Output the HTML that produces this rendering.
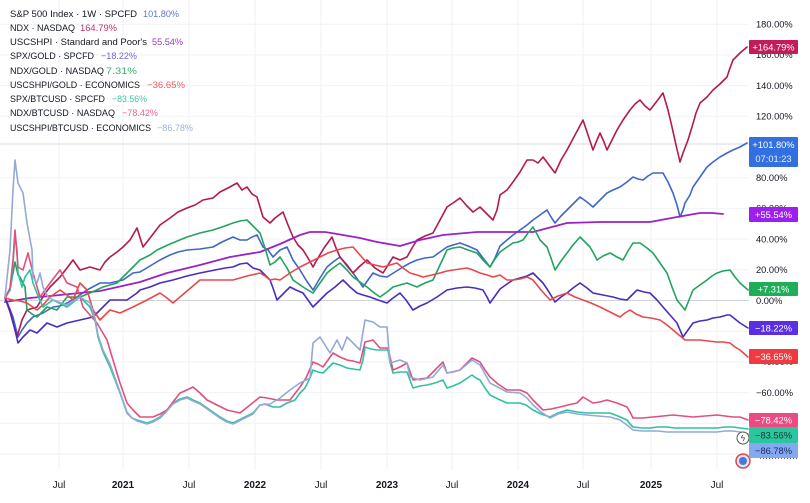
<!DOCTYPE html>
<html>
<head>
<meta charset="utf-8">
<style>
html,body{margin:0;padding:0;background:#fff;}
svg{display:block;}
text{font-family:"Liberation Sans",sans-serif;}
</style>
</head>
<body>
<svg width="810" height="503" viewBox="0 0 810 503" xmlns="http://www.w3.org/2000/svg">
<rect x="0" y="0" width="810" height="503" fill="#ffffff"/>

<!-- gridlines -->
<g stroke="#f1f2f5" stroke-width="1">
<line x1="0" y1="24.2" x2="749" y2="24.2"/>
<line x1="0" y1="54.9" x2="749" y2="54.9"/>
<line x1="0" y1="85.6" x2="749" y2="85.6"/>
<line x1="0" y1="116.3" x2="749" y2="116.3"/>
<line x1="0" y1="177.7" x2="749" y2="177.7"/>
<line x1="0" y1="208.4" x2="749" y2="208.4"/>
<line x1="0" y1="239.1" x2="749" y2="239.1"/>
<line x1="0" y1="269.8" x2="749" y2="269.8"/>
<line x1="0" y1="331.2" x2="749" y2="331.2"/>
<line x1="0" y1="361.9" x2="749" y2="361.9"/>
<line x1="0" y1="392.6" x2="749" y2="392.6"/>
<line x1="0" y1="423.3" x2="749" y2="423.3"/>
<line x1="0" y1="454" x2="749" y2="454"/>
<line x1="59" y1="0" x2="59" y2="470"/>
<line x1="123" y1="0" x2="123" y2="470"/>
<line x1="189" y1="0" x2="189" y2="470"/>
<line x1="255" y1="0" x2="255" y2="470"/>
<line x1="321" y1="0" x2="321" y2="470"/>
<line x1="387" y1="0" x2="387" y2="470"/>
<line x1="452" y1="0" x2="452" y2="470"/>
<line x1="518" y1="0" x2="518" y2="470"/>
<line x1="583" y1="0" x2="583" y2="470"/>
<line x1="651" y1="0" x2="651" y2="470"/>
<line x1="717" y1="0" x2="717" y2="470"/>
</g>
<line x1="0" y1="300.5" x2="749" y2="300.5" stroke="#cfd2d8" stroke-width="1"/>
<line x1="0" y1="144" x2="749" y2="144" stroke="#d6d9df" stroke-width="1"/>

<g fill="none" stroke-width="1.6" stroke-linejoin="round" stroke-linecap="round">
<!-- SPX -->
<polyline stroke="#3f67c9" points="5,297 9,307 13,317 18,337 22,330 27,323 33,317 43,313 53,307 60,306 67,303 77,297 87,290 100,283 110,283 123,280 133,273 140,272 150,266 160,260 170,255 178,252 187,250 200,249 213,247 222,242 233,237 240,240 247,240 252,237 257,235 263,247 268,250 273,257 280,250 287,247 293,260 300,270 306,280 313,290 320,278 327,267 333,262 340,257 347,266 353,273 358,280 363,287 368,280 373,273 380,276 387,277 395,272 403,267 410,263 417,260 425,258 433,257 440,252 447,247 453,245 460,243 468,246 477,250 483,258 490,267 495,258 500,246 507,240 513,235 520,230 527,225 533,220 540,215 547,210 551,217 555,223 561,216 567,210 573,204 580,197 587,202 593,207 600,200 607,193 613,190 620,187 627,182 633,177 638,179 643,180 648,176 653,173 658,173 663,173 668,182 673,193 677,205 680,217 683,210 685,203 690,195 693,187 700,177 707,167 713,162 720,157 727,153 733,150 740,147 747,143"/>
<!-- NDX -->
<polyline stroke="#b3194f" points="5,298 10,312 17,337 22,320 27,310 37,307 44,295 50,287 60,277 67,268 73,260 80,270 90,267 100,270 105,262 110,257 117,252 123,247 130,240 137,228 143,247 150,238 160,225 170,218 178,212 187,208 195,205 203,200 213,198 220,192 228,188 237,183 242,190 247,187 252,194 257,197 263,217 270,223 275,218 283,212 288,225 293,237 298,245 303,250 308,258 313,267 318,258 324,248 332,237 336,248 340,257 347,265 353,273 360,266 367,260 375,268 383,273 388,265 393,257 400,260 407,257 412,248 417,240 425,236 433,233 440,220 447,207 453,203 460,198 467,206 473,212 480,207 487,214 493,220 497,210 500,195 507,190 513,182 520,172 527,160 533,160 538,163 543,157 549,165 555,173 561,160 567,150 575,135 583,120 588,135 593,150 597,140 600,133 604,142 607,150 612,140 617,130 623,120 630,110 635,104 640,100 645,106 650,110 657,101 663,93 668,110 672,127 676,145 680,162 683,153 688,140 692,127 696,113 700,103 707,97 713,90 720,84 727,77 730,68 733,60 740,53 747,47"/>
<!-- USCSHPI -->
<polyline stroke="#9b22c3" stroke-width="1.8" points="5,302 30,298 60,295 100,291 140,282 167,273 200,265 230,257 260,252 280,244 300,235 310,232 325,232 343,235 360,238 377,242 400,246 420,240 443,235 477,232 500,232 533,232 567,223 600,222 650,222 677,217 700,213 712,213 723,214"/>
<!-- SPX/GOLD -->
<polyline stroke="#4b2cc0" points="5,298 10,310 15,330 18,343 23,337 30,330 37,333 47,323 57,327 67,323 80,320 93,317 100,310 110,300 127,300 137,293 140,290 150,287 160,283 173,280 187,276 200,273 215,270 225,268 233,267 240,264 247,263 253,268 260,270 265,275 270,280 273,288 277,300 283,294 290,287 296,290 303,293 308,300 313,307 320,300 327,293 335,287 343,280 350,287 357,293 363,295 370,297 378,300 387,303 393,298 400,293 406,300 413,310 420,306 427,303 437,297 447,290 457,288 467,287 475,288 483,290 487,297 490,303 495,296 500,289 507,284 513,280 520,278 527,276 533,273 538,278 543,283 549,292 555,302 561,297 567,293 573,288 580,283 587,288 593,293 603,295 613,297 620,299 627,300 632,295 637,290 644,292 650,293 657,300 663,307 670,315 677,323 680,330 683,337 688,330 693,323 700,321 707,320 713,318 720,317 727,315 730,315 735,319 740,323 748,328"/>
<!-- NDX/GOLD -->
<polyline stroke="#22a35e" points="5,298 10,290 15,262 18,275 20,277 25,287 27,310 32,314 37,317 47,307 57,310 67,297 80,297 90,293 103,287 117,283 127,273 140,260 150,255 157,250 170,244 187,237 200,233 213,230 222,227 233,223 240,221 247,220 252,225 260,233 265,248 270,265 275,262 280,257 287,268 293,280 303,287 313,293 320,283 327,273 333,268 340,263 347,270 353,277 360,282 367,287 373,292 380,297 387,292 393,287 400,285 407,283 412,285 417,287 425,283 433,280 440,265 447,250 453,248 460,247 468,250 477,253 483,260 490,267 495,259 500,252 507,247 513,243 518,242 523,240 528,233 533,227 537,234 540,240 547,247 551,258 555,270 561,261 567,253 573,245 580,237 585,242 590,247 594,254 597,260 603,256 610,253 617,257 623,260 628,251 633,243 640,243 647,248 653,253 660,263 667,273 672,287 677,300 681,305 685,310 689,300 693,290 700,285 707,280 712,276 717,273 723,271 730,270 735,277 740,283 748,290"/>
<!-- USCSHPI/GOLD -->
<polyline stroke="#e8484a" points="5,298 13,300 20,301 27,303 37,310 44,304 50,297 60,290 67,295 73,300 80,283 87,290 93,310 100,320 110,310 120,313 133,307 147,300 160,293 167,298 173,303 187,291 200,280 215,280 233,280 247,276 260,273 265,276 270,280 275,279 280,280 290,273 300,267 310,262 320,257 328,253 337,250 345,248 353,247 360,255 367,263 375,265 383,267 390,265 397,263 403,268 410,273 417,275 423,277 432,275 440,273 447,271 453,270 460,269 467,268 473,270 480,273 487,275 493,277 500,275 507,280 513,280 520,279 527,277 533,280 541,290 550,300 558,296 567,293 575,297 583,300 591,303 600,307 610,312 620,317 625,313 630,310 636,314 643,317 651,318 660,320 667,325 673,330 679,335 685,340 692,340 700,340 708,341 717,342 723,342 730,343 735,347 740,350 748,357"/>
<!-- SPX/BTC -->
<polyline stroke="#2ec2a2" points="5,298 10,290 12,277 15,235 17,250 18,273 22,287 25,277 30,270 33,283 38,296 43,307 53,300 67,307 80,297 90,307 95,320 98,337 103,352 110,367 115,380 120,393 127,413 132,418 137,420 147,423 153,421 160,417 167,410 173,403 180,399 187,397 193,400 200,403 210,410 220,417 227,421 233,423 243,418 253,413 260,405 265,404 273,407 280,407 287,403 295,400 300,393 305,388 310,378 313,370 318,372 323,373 328,368 333,363 340,365 347,368 353,369 360,370 363,360 365,347 371,349 377,350 383,350 388,350 390,362 393,373 400,372 407,372 410,380 413,388 420,386 427,385 435,383 443,380 447,388 453,386 460,383 466,379 472,375 476,378 480,380 485,388 490,395 498,399 507,403 514,403 520,403 526,405 533,410 541,414 550,417 558,413 567,410 577,412 587,413 598,413 610,413 618,416 627,420 630,424 633,427 642,428 650,428 658,427 667,427 675,428 683,428 692,428 700,428 710,428 717,428 725,427 733,427 740,428 748,429"/>
<!-- NDX/BTC -->
<polyline stroke="#e0507e" points="5,298 10,288 13,260 15,230 18,267 23,270 28,253 33,273 40,297 50,283 60,270 67,283 77,287 83,307 90,315 97,323 107,340 113,360 120,383 127,403 133,410 140,417 153,417 160,414 167,410 173,402 180,393 187,390 193,387 200,393 207,400 217,405 227,410 240,413 250,405 260,397 267,398 277,400 283,400 290,400 300,387 306,378 313,362 318,364 323,367 328,360 333,353 340,357 347,360 353,361 360,363 365,342 373,340 380,348 388,348 393,370 400,367 407,363 413,380 420,379 427,378 435,370 443,362 447,373 453,372 460,370 466,364 472,358 476,360 480,362 485,370 490,377 498,384 507,390 513,390 520,390 527,393 533,400 538,405 543,410 551,409 560,407 568,405 577,403 583,397 588,400 593,403 600,402 607,400 617,403 627,407 630,412 633,418 643,418 653,417 663,416 673,415 683,416 693,417 705,416 717,415 725,416 733,417 740,417 748,420"/>
<!-- USCSHPI/BTC -->
<polyline stroke="#93a9d6" points="5,297 10,250 13,190 15,160 18,183 23,193 27,223 32,250 33,277 37,283 40,273 43,287 48,297 53,300 67,305 80,297 90,303 95,318 98,335 103,350 110,364 115,378 120,392 127,412 132,418 137,421 147,424 153,422 160,418 167,411 173,404 180,400 187,398 193,401 200,404 210,411 220,418 227,422 233,424 243,419 253,414 260,405 270,404 280,398 290,390 300,383 310,378 313,343 320,337 325,345 330,353 337,340 342,350 347,337 353,343 360,350 365,320 373,322 380,327 387,327 390,363 400,360 407,363 410,377 420,380 433,377 443,365 447,373 460,370 472,360 480,365 490,383 507,392 520,393 527,398 533,405 541,412 550,418 558,414 567,412 577,414 587,415 598,416 610,417 620,420 627,425 633,430 642,431 650,431 658,431 667,432 675,432 683,432 692,432 700,432 710,432 717,432 725,431 733,431 740,432 748,434"/>
</g>

<!-- legend -->
<g font-size="9.6" fill="#131722">
<text x="10" y="17" textLength="127" lengthAdjust="spacingAndGlyphs">S&amp;P 500 Index · 1W · SPCFD</text>
<text x="143" y="17" fill="#5d78c6" textLength="36" lengthAdjust="spacingAndGlyphs">101.80%</text>
<text x="10" y="31" textLength="65" lengthAdjust="spacingAndGlyphs">NDX · NASDAQ</text>
<text x="80" y="31" fill="#c2336a" textLength="37" lengthAdjust="spacingAndGlyphs">164.79%</text>
<text x="10" y="45" textLength="137" lengthAdjust="spacingAndGlyphs">USCSHPI · Standard and Poor's</text>
<text x="152" y="45" fill="#9b3ac6" textLength="31" lengthAdjust="spacingAndGlyphs">55.54%</text>
<text x="10" y="59" textLength="84" lengthAdjust="spacingAndGlyphs">SPX/GOLD · SPCFD</text>
<text x="101" y="59" fill="#7466dc" textLength="36" lengthAdjust="spacingAndGlyphs">−18.22%</text>
<text x="10" y="74" textLength="94" lengthAdjust="spacingAndGlyphs">NDX/GOLD · NASDAQ</text>
<text x="106" y="74" fill="#3db070" textLength="31" lengthAdjust="spacingAndGlyphs">7.31%</text>
<text x="10" y="88" textLength="130" lengthAdjust="spacingAndGlyphs">USCSHPI/GOLD · ECONOMICS</text>
<text x="147" y="88" fill="#ec5a5a" textLength="38" lengthAdjust="spacingAndGlyphs">−36.65%</text>
<text x="10" y="102" textLength="95" lengthAdjust="spacingAndGlyphs">SPX/BTCUSD · SPCFD</text>
<text x="112" y="102" fill="#3fc6a4" textLength="35" lengthAdjust="spacingAndGlyphs">−83.56%</text>
<text x="10" y="116" textLength="105" lengthAdjust="spacingAndGlyphs">NDX/BTCUSD · NASDAQ</text>
<text x="122" y="116" fill="#e86890" textLength="36" lengthAdjust="spacingAndGlyphs">−78.42%</text>
<text x="10" y="131" textLength="141" lengthAdjust="spacingAndGlyphs">USCSHPI/BTCUSD · ECONOMICS</text>
<text x="157" y="131" fill="#9fb1d6" textLength="36" lengthAdjust="spacingAndGlyphs">−86.78%</text>
</g>

<!-- y axis labels -->
<g font-size="9.3" fill="#131722">
<text x="756" y="27.5">180.00%</text>
<text x="756" y="58.2">160.00%</text>
<text x="756" y="88.9">140.00%</text>
<text x="756" y="119.6">120.00%</text>
<text x="756" y="150.3">100.00%</text>
<text x="756" y="181">80.00%</text>
<text x="756" y="211.7">60.00%</text>
<text x="756" y="242.4">40.00%</text>
<text x="756" y="273.1">20.00%</text>
<text x="756" y="303.8">0.00%</text>
<text x="756" y="334.5">−20.00%</text>
<text x="756" y="365.2">−40.00%</text>
<text x="756" y="395.9">−60.00%</text>
<text x="756" y="426.6">−80.00%</text>
<text x="756" y="457.3">−100.00%</text>
</g>

<!-- x axis labels -->
<g font-size="10" text-anchor="middle" fill="#131722">
<text x="59" y="488">Jul</text>
<text x="123" y="488" font-weight="bold">2021</text>
<text x="189" y="488">Jul</text>
<text x="255" y="488" font-weight="bold">2022</text>
<text x="321" y="488">Jul</text>
<text x="387" y="488" font-weight="bold">2023</text>
<text x="452" y="488">Jul</text>
<text x="518" y="488" font-weight="bold">2024</text>
<text x="583" y="488">Jul</text>
<text x="651" y="488" font-weight="bold">2025</text>
<text x="717" y="488">Jul</text>
</g>

<!-- icons -->
<circle cx="743" cy="438" r="6" fill="#fff" stroke="#555" stroke-width="1"/>
<text x="743" y="441" font-size="8" text-anchor="middle" fill="#333">ϟ</text>
<circle cx="743" cy="461" r="7" fill="#dfe6f7" stroke="#e0474c" stroke-width="1.5"/>
<circle cx="743" cy="461" r="4" fill="#4a78d8"/>

<!-- badges -->
<g font-size="9.3" text-anchor="middle">
<rect x="749" y="40" width="49" height="14" rx="1" fill="#c31c5a"/>
<text x="773.5" y="50.5" fill="#fff">+164.79%</text>

<rect x="749" y="137" width="49" height="30" rx="1" fill="#3270df"/>
<text x="773.5" y="148" fill="#fff">+101.80%</text>
<text x="773.5" y="162" fill="#e6eeff">07:01:23</text>

<rect x="749" y="207" width="49" height="15" rx="1" fill="#9d1ff0"/>
<text x="773.5" y="218" fill="#fff">+55.54%</text>

<rect x="749" y="282" width="49" height="14" rx="1" fill="#20ad5a"/>
<text x="773.5" y="292.5" fill="#fff">+7.31%</text>

<rect x="749" y="321" width="49" height="14" rx="1" fill="#5a2ee4"/>
<text x="773.5" y="331.5" fill="#fff">−18.22%</text>

<rect x="749" y="349" width="49" height="15" rx="1" fill="#f03a41"/>
<text x="773.5" y="360" fill="#fff">−36.65%</text>

<rect x="749" y="413" width="49" height="14" rx="1" fill="#e84c80"/>
<text x="773.5" y="423.5" fill="#fff">−78.42%</text>

<rect x="749" y="427" width="49" height="16" rx="1" fill="#2cc59f"/>
<text x="773.5" y="438.5" fill="#0b3d2c">−83.56%</text>

<rect x="749" y="443" width="49" height="15" rx="1" fill="#85a9ee"/>
<text x="773.5" y="454" fill="#1a2a66">−86.78%</text>
<line x1="760" y1="458.5" x2="798" y2="458.5" stroke="#1a2a66" stroke-width="0.8" stroke-dasharray="1,2"/>
</g>
</svg>
</body>
</html>
